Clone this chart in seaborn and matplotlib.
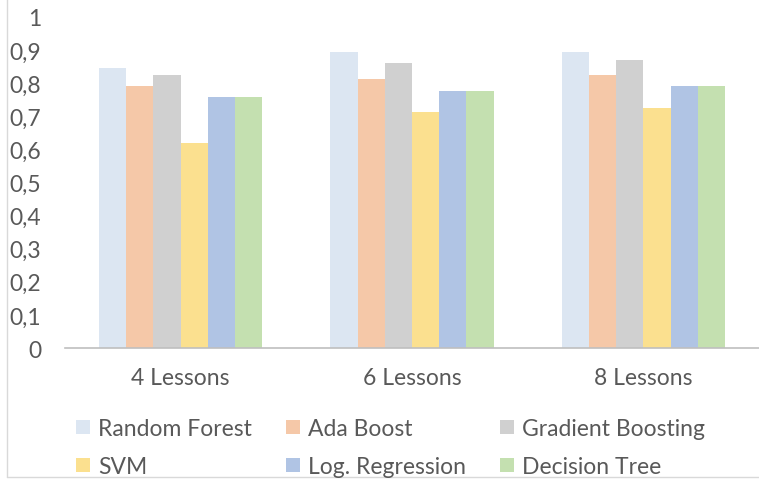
import pandas as pd
import matplotlib.pyplot as plt
import seaborn as sns
from matplotlib.lines import Line2D

# Chart data
groups = ["4 Lessons", "6 Lessons", "8 Lessons"]
random_forest = [0.846, 0.894, 0.895]
ada_boost = [0.792, 0.814, 0.825]
gradient_boosting = [0.825, 0.861, 0.869]
svm = [0.620, 0.713, 0.726]
log_regression = [0.757, 0.777, 0.791]
decision_tree = [0.757, 0.777, 0.791]
models = ["Random Forest", "Ada Boost", "Gradient Boosting", "SVM", "Log. Regression", "Decision Tree"]
y_ticks = [0, 0.1, 0.2, 0.3, 0.4, 0.5, 0.6, 0.7, 0.8, 0.9, 1]
y_labels = ["0", "0,1", "0,2", "0,3", "0,4", "0,5", "0,6", "0,7", "0,8", "0,9", "1"]

colors = ["#dce6f2", "#f5c8a8", "#d0d0d0", "#fbe08f", "#b0c4e4", "#c4e0b0"]

series = [random_forest, ada_boost, gradient_boosting, svm, log_regression, decision_tree]
rows = []
for model, vals in zip(models, series):
    for g, v in zip(groups, vals):
        rows.append({"group": g, "model": model, "score": v})
df = pd.DataFrame(rows)

sns.set_style("white")
plt.rcParams['font.family'] = ['Lato', 'DejaVu Sans']
text_color = "#595959"
fs = 16.5

fig = plt.figure(figsize=(7.59, 4.81), dpi=100)
ax = fig.add_axes([0.0856, 0.2744, 0.9144, 0.6882])

sns.barplot(data=df, x="group", y="score", hue="model", hue_order=models,
            palette=colors, width=0.705, gap=0, saturation=1, linewidth=0,
            ax=ax, legend=True)

ax.set_ylim(0, 1)
ax.set_xlim(-0.5, 2.5)
ax.set_yticks(y_ticks)
ax.set_yticklabels(y_labels)
ax.set_xlabel("")
ax.set_ylabel("")
for s in ["top", "right", "left"]:
    ax.spines[s].set_visible(False)
ax.spines["bottom"].set_color("#bfbfbf")
ax.spines["bottom"].set_linewidth(1.2)
ax.tick_params(axis="y", length=0, pad=17, labelsize=fs, labelcolor=text_color)
ax.tick_params(axis="x", length=0, pad=14, labelsize=fs, labelcolor=text_color)

# legend filled row by row, like the original
handles, labels = ax.get_legend_handles_labels()
ax.get_legend().remove()
order = [0, 3, 1, 4, 2, 5]
fig.legend([handles[i] for i in order], [labels[i] for i in order], ncol=3,
           loc="upper left", bbox_to_anchor=(0.088, 0.148),
           frameon=False, fontsize=fs, labelcolor=text_color,
           handlelength=0.6, handleheight=0.6, handletextpad=0.35,
           columnspacing=1.5, labelspacing=0.75, borderaxespad=0)

# chart border lines
fig.add_artist(Line2D([0.009, 0.009], [0.006, 1.0], color="#d9d9d9", lw=1))
fig.add_artist(Line2D([0.009, 1.0], [0.006, 0.006], color="#d9d9d9", lw=1))

fig.savefig("out.png", dpi=100)
